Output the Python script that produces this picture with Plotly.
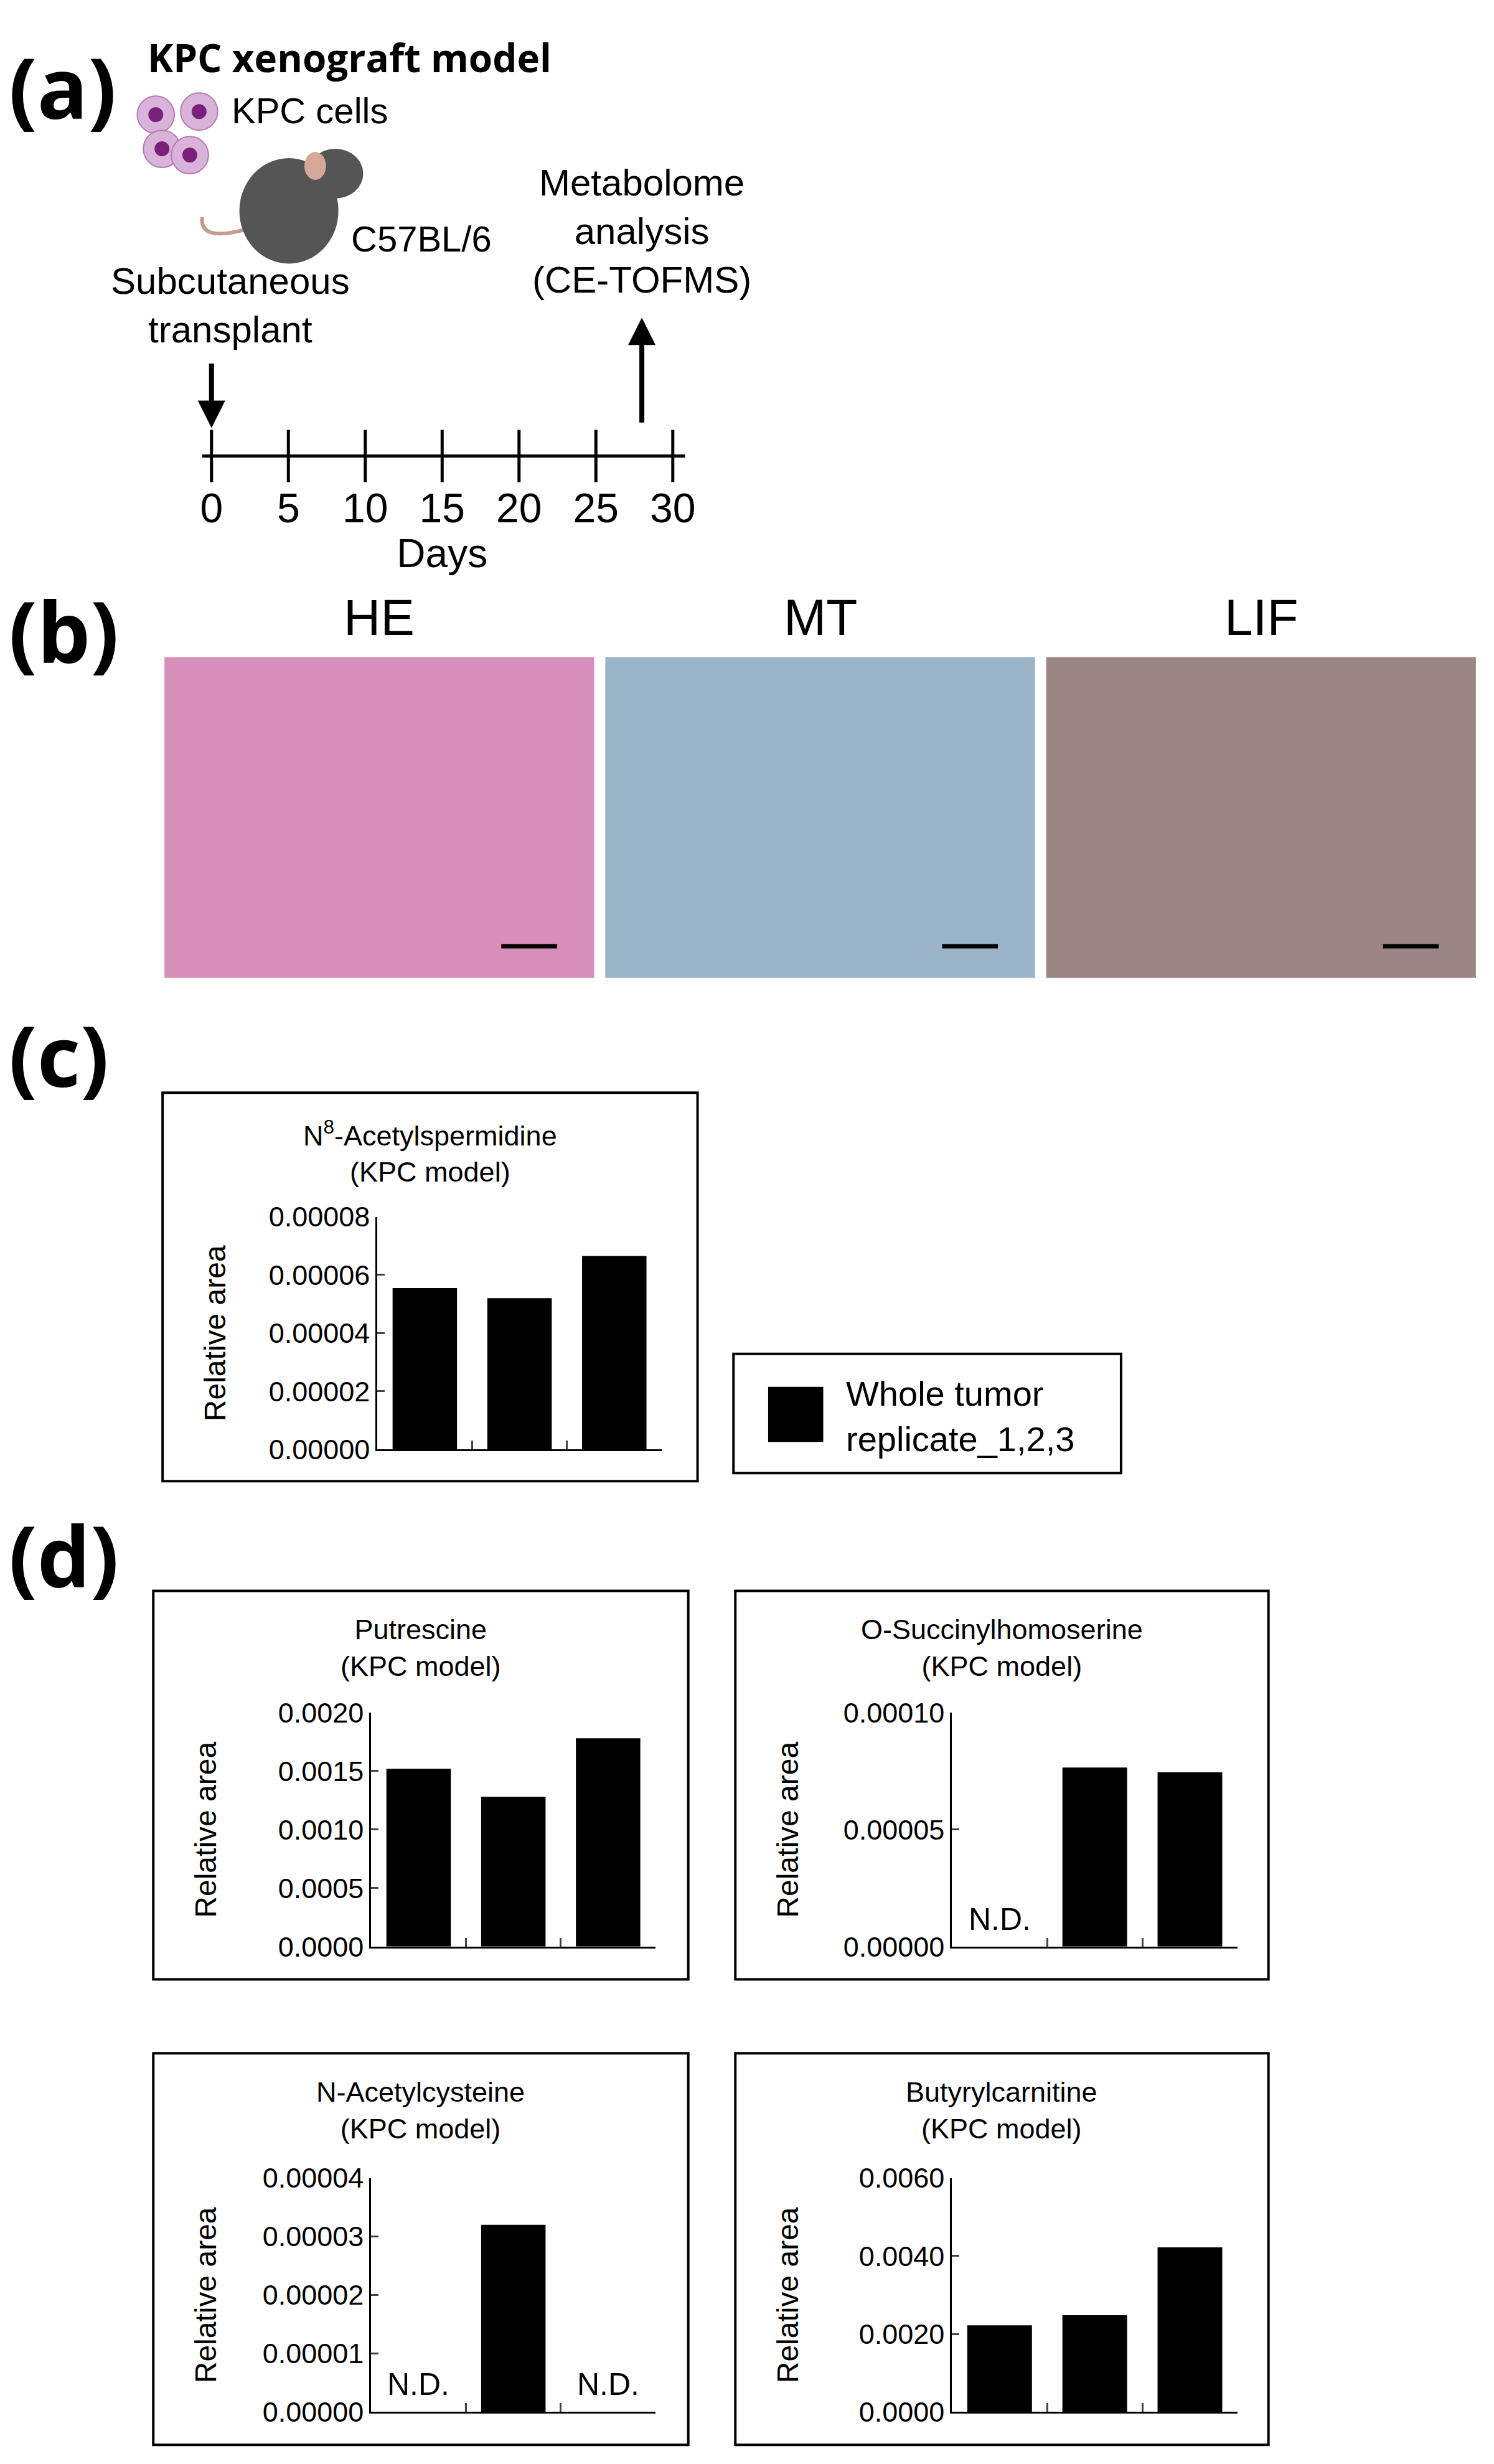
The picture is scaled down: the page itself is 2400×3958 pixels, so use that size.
import plotly.graph_objects as go

W, H = 2400, 3958
def px(x): return (1.018 * x - 25) / W
def py(y): return 1 - (1.0098 * y - 33.6) / H

replicates = ["Replicate 1", "Replicate 2", "Replicate 3"]
n8_acetylspermidine = [0.0000555, 0.000052, 0.0000665]
putrescine = [0.00152, 0.00128, 0.00178]
o_succinylhomoserine = [None, 0.0000765, 0.0000745]
n_acetylcysteine = [None, 0.000032, None]
butyrylcarnitine = [0.00222, 0.00248, 0.00422]
timeline_days = [0, 5, 10, 15, 20, 25, 30]

panels = [
    ("N<sup>8</sup>-Acetylspermidine", n8_acetylspermidine, (261, 1761, 1125, 2387), (608, 1067, 1961, 2336), 0.00002, ".5f", 0.00008),
    ("Putrescine", putrescine, (246, 2564, 1110, 3190), (598, 1057, 2760, 3137), 0.0005, ".4f", 0.002),
    ("O-Succinylhomoserine", o_succinylhomoserine, (1186, 2564, 2047, 3190), (1536, 1997, 2760, 3137), 0.00005, ".5f", 0.0001),
    ("N-Acetylcysteine", n_acetylcysteine, (246, 3309, 1110, 3940), (598, 1057, 3510, 3887), 0.00001, ".5f", 0.00004),
    ("Butyrylcarnitine", butyrylcarnitine, (1186, 3309, 2047, 3940), (1536, 1997, 3510, 3887), 0.002, ".4f", 0.006),
]

FONT = "Liberation Sans"
fig = go.Figure()
shapes, annos = [], []
layout = {}

def text(t, x, y, size, xa="center", ya="middle", family=FONT, align="center", angle=0):
    annos.append(dict(text=t, x=px(x), y=py(y), xref="paper", yref="paper", xanchor=xa, yanchor=ya,
                      align=align, textangle=angle, showarrow=False,
                      font=dict(size=size, family=family, color="black")))

for i, (name, vals, box, ax, dt, fmt, ymax) in enumerate(panels):
    k = i + 1
    xa = "x" if k == 1 else f"x{k}"
    ya = "y" if k == 1 else f"y{k}"
    fig.add_trace(go.Bar(x=[0, 1, 2], y=[v if v is not None else 0 for v in vals],
                         marker=dict(color="black", line=dict(width=0)),
                         width=0.68, xaxis=xa, yaxis=ya, showlegend=False))
    layout["xaxis" if k == 1 else f"xaxis{k}"] = dict(
        domain=[px(ax[0]), px(ax[1])], range=[-0.5, 2.5], anchor=ya,
        showline=True, linecolor="black", linewidth=3, tickvals=[0.5, 1.5, 2.5],
        ticks="inside", ticklen=14, tickwidth=3, showticklabels=False, showgrid=False, zeroline=False)
    layout["yaxis" if k == 1 else f"yaxis{k}"] = dict(
        domain=[py(ax[3]), py(ax[2])], range=[0, ymax], anchor=xa, dtick=dt, tickformat=fmt,
        showline=True, linecolor="black", linewidth=3, ticks="inside", ticklen=12, tickwidth=3,
        tickfont=dict(size=45, family=FONT, color="black"), showgrid=False, zeroline=False)
    shapes.append(dict(type="rect", xref="paper", yref="paper", x0=px(box[0]), x1=px(box[2]),
                       y0=py(box[3]), y1=py(box[1]), line=dict(color="black", width=4)))
    cx = (box[0] + box[2]) / 2
    text(f"{name}<br>(KPC model)", cx, box[1] + 35, 45, ya="top")
    text("Relative area", box[0] + 85, (ax[2] + ax[3]) / 2, 48, angle=-90)
    for j, v in enumerate(vals):
        if v is None:
            annos.append(dict(text="N.D.", x=j, y=0, xref=xa, yref=ya, xanchor="center", yanchor="bottom", yshift=14,
                              showarrow=False, font=dict(size=50, family=FONT, color="black")))

# legend box
shapes.append(dict(type="rect", xref="paper", yref="paper", x0=px(1183), x1=px(1809), y0=py(2374), y1=py(2182),
                   line=dict(color="black", width=4)))
shapes.append(dict(type="rect", xref="paper", yref="paper", x0=px(1239), x1=px(1328), y0=py(2324), y1=py(2235),
                   fillcolor="black", line=dict(width=0)))
text("Whole tumor<br>replicate_1,2,3", 1363, 2282, 56, xa="left", align="left")

# panel letters
for lab, y in [("(a)", 140), ("(b)", 1015), ("(c)", 1700), ("(d)", 2505)]:
    text(f"<b>{lab}</b>", 10, y, 135, xa="left", family="Open Sans")

# panel (a) timeline
fig.add_trace(go.Scatter(x=timeline_days, y=[0] * len(timeline_days), mode="markers",
                         marker=dict(symbol="line-ns-open", size=60, color="black", line=dict(color="black", width=5)),
                         xaxis="x6", yaxis="y6", showlegend=False, cliponaxis=False))
layout["xaxis6"] = dict(domain=[px(340), px(1085)], range=[0, 30], anchor="y6", showline=False,
                        tickvals=timeline_days, ticks="", showgrid=False, zeroline=False,
                        tickfont=dict(size=66, family=FONT, color="black"),
                        title=dict(text="Days", font=dict(size=64, family=FONT, color="black"), standoff=0))
layout["yaxis6"] = dict(domain=[py(775), py(695)], range=[-1, 1], anchor="x6", visible=False)
shapes.append(dict(type="line", xref="paper", yref="paper", x0=px(325), x1=px(1105), y0=py(735), y1=py(735),
                   line=dict(color="black", width=5)))
annos.append(dict(x=px(340), y=py(690), ax=0, ay=-105, xref="paper", yref="paper",
                  showarrow=True, arrowhead=2, arrowsize=1.1, arrowwidth=8, arrowcolor="black", text=""))
annos.append(dict(x=px(1035), y=py(512), ax=0, ay=170, xref="paper", yref="paper",
                  showarrow=True, arrowhead=2, arrowsize=1.1, arrowwidth=8, arrowcolor="black", text=""))
text("<b>KPC xenograft model</b>", 235, 92, 62, xa="left", family="Open Sans")
text("KPC cells", 370, 178, 58, xa="left")
text("C57BL/6", 563, 385, 58, xa="left")
text("Subcutaneous<br>transplant", 370, 492, 60)
text("Metabolome<br>analysis<br>(CE-TOFMS)", 1035, 373, 60)

# simple mouse + cells illustration
shapes.append(dict(type="path", xref="paper", yref="paper",
                   path=f"M {px(395)},{py(370)} Q {px(320)},{py(390)} {px(325)},{py(350)}",
                   line=dict(color="#c79a8c", width=6)))
shapes.append(dict(type="circle", xref="paper", yref="paper", x0=px(385), x1=px(545), y0=py(425), y1=py(255),
                   fillcolor="#555555", line=dict(width=0)))
shapes.append(dict(type="circle", xref="paper", yref="paper", x0=px(495), x1=px(585), y0=py(320), y1=py(240),
                   fillcolor="#555555", line=dict(width=0)))
shapes.append(dict(type="circle", xref="paper", yref="paper", x0=px(490), x1=px(525), y0=py(290), y1=py(245),
                   fillcolor="#d4a99a", line=dict(width=0)))
for cx, cy in [(250, 185), (320, 180), (260, 240), (305, 250)]:
    shapes.append(dict(type="circle", xref="paper", yref="paper", x0=px(cx - 30), x1=px(cx + 30), y0=py(cy + 30),
                       y1=py(cy - 30), fillcolor="#d9b3d9", line=dict(color="#b57ab5", width=2)))
    shapes.append(dict(type="circle", xref="paper", yref="paper", x0=px(cx - 12), x1=px(cx + 12), y0=py(cy + 12),
                       y1=py(cy - 12), fillcolor="#7a1f7a", line=dict(width=0)))

# panel (b) histology placeholders
hist = [("HE", 264, 958, "#d68fb8"), ("MT", 976, 1670, "#9bb3c6"), ("LIF", 1688, 2382, "#9c8585")]
for lab, x0, x1, col in hist:
    shapes.append(dict(type="rect", xref="paper", yref="paper", x0=px(x0), x1=px(x1), y0=py(1576), y1=py(1059),
                       fillcolor=col, line=dict(width=0)))
    shapes.append(dict(type="line", xref="paper", yref="paper", x0=px(x1 - 150), x1=px(x1 - 60), y0=py(1525),
                       y1=py(1525), line=dict(color="black", width=7)))
    text(lab, (x0 + x1) / 2, 995, 82)

fig.update_layout(width=W, height=H, margin=dict(l=0, r=0, t=0, b=0), plot_bgcolor="white",
                  paper_bgcolor="white", shapes=shapes, annotations=annos, bargap=0.3, **layout)
fig.write_html("out.html")
